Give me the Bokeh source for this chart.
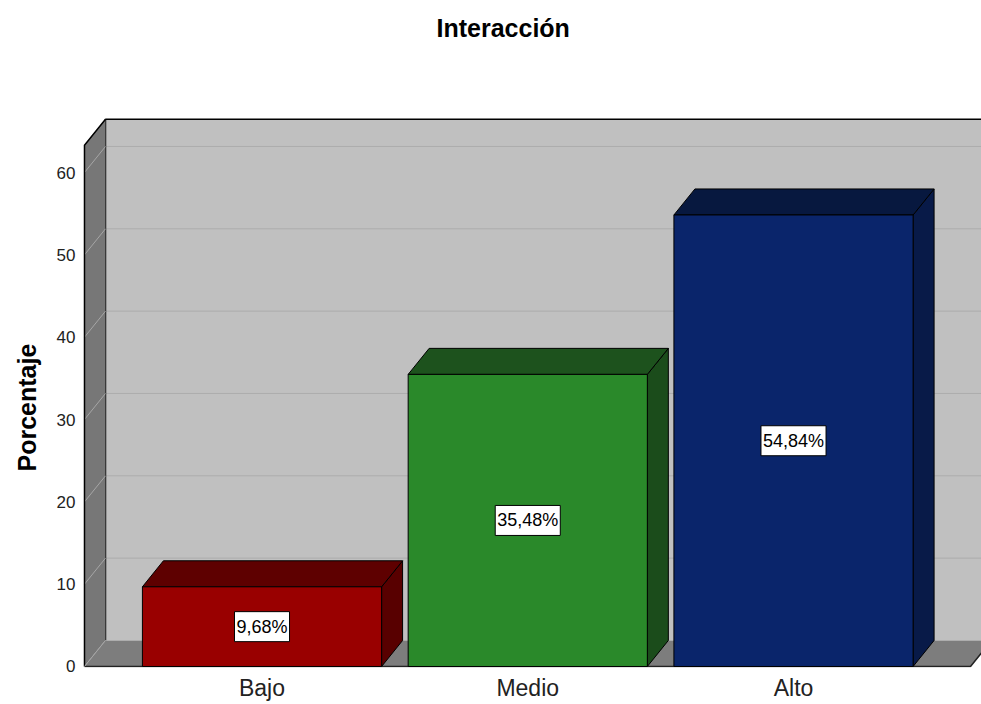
from bokeh.plotting import figure
from bokeh.models import (ColumnDataSource, Range1d, FixedTicker, Title)
from bokeh.core.properties import value
from bokeh.embed import file_html
from bokeh.resources import INLINE

# ---- data ----
categories = ["Bajo", "Medio", "Alto"]
percentages = [9.68, 35.48, 54.84]
y_ticks = [0, 10, 20, 30, 40, 50, 60]
title_text = "Interacción"
y_title = "Porcentaje"

# ---- styling / 3D geometry (data units) ----
front_colors = ["#990000", "#2a892a", "#0a256b"]
top_colors = ["#5e0000", "#1d521d", "#07183f"]
side_colors = ["#580000", "#1b4c1b", "#081a48"]
half_w = 0.45
dx, dy = 0.079, 3.16          # depth offset of the 3D box
x_start, x_end = -0.683, 2.7074
y_start, y_end = -0.1215, 68.745
wall_top = 63.3
floor_end = 2.666
wall_left = -0.668

FONT = "Liberation Sans"

p = figure(width=981, height=704, output_backend="svg", toolbar_location=None,
           x_range=Range1d(x_start, x_end), y_range=Range1d(y_start, y_end),
           min_border_left=80, min_border_right=0, min_border_top=100,
           min_border_bottom=37, outline_line_color=None)
p.background_fill_color = "white"
p.border_fill_color = "white"
p.xgrid.visible = False
p.ygrid.visible = False

# ---- walls ----
# back wall
p.patch([wall_left + dx, floor_end + dx + 0.2, floor_end + dx + 0.2, wall_left + dx],
        [dy, dy, wall_top + dy, wall_top + dy],
        fill_color="#c0c0c0", line_color=None)
# back wall gridlines
gx0 = [wall_left + dx] * (len(y_ticks) - 1)
gx1 = [floor_end + dx + 0.2] * (len(y_ticks) - 1)
gy = [t + dy for t in y_ticks[1:]]
p.segment(gx0, gy, gx1, gy, line_color="#acacac", line_width=1)
# back wall top & left edges
p.line([wall_left + dx, wall_left + dx, floor_end + dx + 0.2],
       [dy, wall_top + dy, wall_top + dy], line_color="black", line_width=1.5)

# left wall
p.patch([wall_left, wall_left + dx, wall_left + dx, wall_left],
        [0, dy, wall_top + dy, wall_top],
        fill_color="#777777", line_color=None)
p.segment([wall_left] * len(y_ticks), y_ticks,
          [wall_left + dx] * len(y_ticks), [t + dy for t in y_ticks],
          line_color="#a6a6a6", line_width=1)
p.line([wall_left, wall_left, wall_left + dx],
       [0, wall_top, wall_top + dy], line_color="black", line_width=1.5)

# floor
p.patch([wall_left, floor_end, floor_end + dx, wall_left + dx],
        [0, 0, dy, dy], fill_color="#7d7d7d", line_color=None)
p.line([wall_left, floor_end, floor_end + dx], [0, 0, dy],
       line_color="#222222", line_width=1.5)
p.segment([wall_left], [0], [wall_left + dx], [dy], line_color="#a6a6a6", line_width=1)

# ---- bars ----
fx, fy, tx, ty, sx, sy = [], [], [], [], [], []
for i, v in enumerate(percentages):
    x0, x1 = i - half_w, i + half_w
    fx.append([x0, x1, x1, x0]); fy.append([0, 0, v, v])
    tx.append([x0, x1, x1 + dx, x0 + dx]); ty.append([v, v, v + dy, v + dy])
    sx.append([x1, x1 + dx, x1 + dx, x1]); sy.append([0, dy, v + dy, v])

p.patches(sx, sy, fill_color=side_colors, line_color="black", line_width=1)
p.patches(tx, ty, fill_color=top_colors, line_color="black", line_width=1)
p.patches(fx, fy, fill_color=front_colors, line_color="black", line_width=1)

# ---- value labels ----
lab_src = ColumnDataSource(dict(
    x=list(range(len(categories))),
    y=[v / 2 for v in percentages],
    text=[f"{v:.2f}".replace(".", ",") + "%" for v in percentages],
))
p.text(x="x", y="y", text="text", source=lab_src,
       text_align="center", text_baseline="middle",
       text_font=value(FONT), text_font_size=value("18px"), text_color="black",
       background_fill_color="white", border_line_color="black",
       border_line_width=1, padding=(2, 5))

# ---- axes ----
p.xaxis.ticker = FixedTicker(ticks=list(range(len(categories))))
p.xaxis.major_label_overrides = {i: c for i, c in enumerate(categories)}
p.xaxis.axis_line_color = None
p.xaxis.major_tick_line_color = None
p.xaxis.minor_tick_line_color = None
p.xaxis.major_tick_out = 0
p.xaxis.major_tick_in = 0
p.xaxis.minor_tick_out = 0
p.xaxis.major_label_standoff = 7
p.xaxis.major_label_text_font = FONT
p.xaxis.major_label_text_font_size = "23px"
p.xaxis.major_label_text_color = "#222222"

p.yaxis.ticker = FixedTicker(ticks=y_ticks)
p.yaxis.axis_line_color = None
p.yaxis.major_tick_line_color = None
p.yaxis.minor_tick_line_color = None
p.yaxis.major_tick_out = 0
p.yaxis.major_tick_in = 0
p.yaxis.minor_tick_out = 0
p.yaxis.major_label_standoff = 5
p.yaxis.major_label_text_font = FONT
p.yaxis.major_label_text_font_size = "17px"
p.yaxis.major_label_text_color = "#222222"

# y-axis title, placed along the front wall
p.add_layout(Title(text=y_title, align="left", offset=196, standoff=21,
                   vertical_align="top",
                   text_font=FONT, text_font_size="25px", text_font_style="bold",
                   text_color="black"), "left")

# ---- title: spacer next to the frame, real title further out ----
p.add_layout(Title(text=" ", text_font_size="2px", standoff=55), "above")
p.title.text = title_text
p.title.align = "left"
p.title.offset = 356
p.title.standoff = 0
p.title.text_font = FONT
p.title.text_font_size = "25px"
p.title.text_font_style = "bold"
p.title.text_color = "black"

open("out.html", "w").write(file_html(p, INLINE))
